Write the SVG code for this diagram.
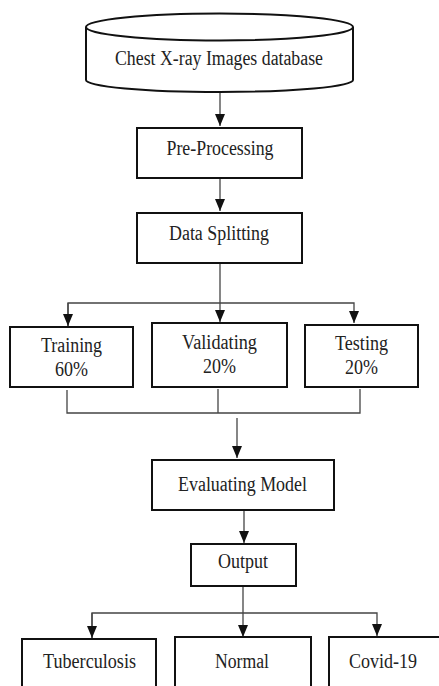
<svg xmlns="http://www.w3.org/2000/svg" width="439" height="686" viewBox="0 0 439 686">
  <defs>
    <marker id="arrow" viewBox="0 0 12 10" refX="12" refY="5" markerWidth="12" markerHeight="10" markerUnits="userSpaceOnUse" orient="auto">
      <path d="M0,0 L12,5 L0,10 Z" fill="#111"/>
    </marker>
    <style>
      .box { fill: #fff; stroke: #111; stroke-width: 2; }
      .lbl { font-size: 20px; fill: #222; text-anchor: middle; }
      .conn { fill: none; stroke: #444; stroke-width: 1.3; }
    </style>
  </defs>
  <rect width="439" height="686" fill="#fff"/>

  <!-- connectors -->
  <g id="connectors">
    <line class="conn" x1="220" y1="92" x2="220" y2="126" marker-end="url(#arrow)"/>
    <line class="conn" x1="220" y1="178" x2="220" y2="211" marker-end="url(#arrow)"/>
    <line class="conn" x1="220" y1="263" x2="220" y2="322" marker-end="url(#arrow)"/>
    <polyline class="conn" points="68,326 68,303 354,303 354,323" marker-end="url(#arrow)"/>
    <line class="conn" x1="68" y1="303" x2="68" y2="326" marker-end="url(#arrow)"/>
    <polyline class="conn" points="67,390 67,413 360,413 360,389"/>
    <line class="conn" x1="218" y1="389" x2="218" y2="413"/>
    <line class="conn" x1="237" y1="418" x2="237" y2="458" marker-end="url(#arrow)"/>
    <line class="conn" x1="244" y1="510" x2="244" y2="543" marker-end="url(#arrow)"/>
    <line class="conn" x1="243" y1="586" x2="243" y2="637" marker-end="url(#arrow)"/>
    <polyline class="conn" points="92,638 92,613 377,613 377,636" marker-end="url(#arrow)"/>
    <line class="conn" x1="92" y1="613" x2="92" y2="638" marker-end="url(#arrow)"/>
  </g>

  <g font-family="'Liberation Serif', 'DejaVu Serif', serif">
  <!-- database cylinder -->
  <g id="database">
    <path class="box" d="M86,27 V80 A133.5,12 0 0 0 353,80 V27"/>
    <ellipse class="box" cx="219.5" cy="27" rx="133.5" ry="13.5"/>
    <text class="lbl" x="219" y="65" textLength="208" lengthAdjust="spacingAndGlyphs">Chest X-ray Images database</text>
  </g>

  <g id="preprocessing">
    <rect class="box" x="137" y="128" width="165" height="50"/>
    <text class="lbl" x="220" y="155" textLength="107" lengthAdjust="spacingAndGlyphs">Pre-Processing</text>
  </g>

  <g id="splitting">
    <rect class="box" x="137" y="213" width="165" height="50"/>
    <text class="lbl" x="219" y="240" textLength="100" lengthAdjust="spacingAndGlyphs">Data Splitting</text>
  </g>

  <g id="training">
    <rect class="box" x="10" y="327" width="123" height="60"/>
    <text class="lbl" x="71.5" y="352" textLength="61" lengthAdjust="spacingAndGlyphs">Training</text>
    <text class="lbl" x="71.5" y="376" textLength="33" lengthAdjust="spacingAndGlyphs">60%</text>
  </g>

  <g id="validating">
    <rect class="box" x="152" y="323" width="135" height="64"/>
    <text class="lbl" x="219.5" y="349" textLength="75" lengthAdjust="spacingAndGlyphs">Validating</text>
    <text class="lbl" x="219.5" y="373" textLength="33" lengthAdjust="spacingAndGlyphs">20%</text>
  </g>

  <g id="testing">
    <rect class="box" x="305" y="325" width="113" height="62"/>
    <text class="lbl" x="361.5" y="350" textLength="53" lengthAdjust="spacingAndGlyphs">Testing</text>
    <text class="lbl" x="361.5" y="374" textLength="33" lengthAdjust="spacingAndGlyphs">20%</text>
  </g>

  <g id="evaluating">
    <rect class="box" x="152" y="460" width="182" height="50"/>
    <text class="lbl" x="242.5" y="491" textLength="129" lengthAdjust="spacingAndGlyphs">Evaluating Model</text>
  </g>

  <g id="output">
    <rect class="box" x="191" y="544" width="105" height="42"/>
    <text class="lbl" x="243" y="568" textLength="50" lengthAdjust="spacingAndGlyphs">Output</text>
  </g>

  <g id="tuberculosis">
    <rect class="box" x="22" y="639" width="134" height="52"/>
    <text class="lbl" x="89.5" y="668" textLength="93" lengthAdjust="spacingAndGlyphs">Tuberculosis</text>
  </g>

  <g id="normal">
    <rect class="box" x="175" y="637" width="136" height="54"/>
    <text class="lbl" x="242" y="668" textLength="54" lengthAdjust="spacingAndGlyphs">Normal</text>
  </g>

  <g id="covid">
    <rect class="box" x="329" y="637" width="120" height="54"/>
    <text class="lbl" x="383" y="668" textLength="68" lengthAdjust="spacingAndGlyphs">Covid-19</text>
  </g>
  </g>
</svg>
